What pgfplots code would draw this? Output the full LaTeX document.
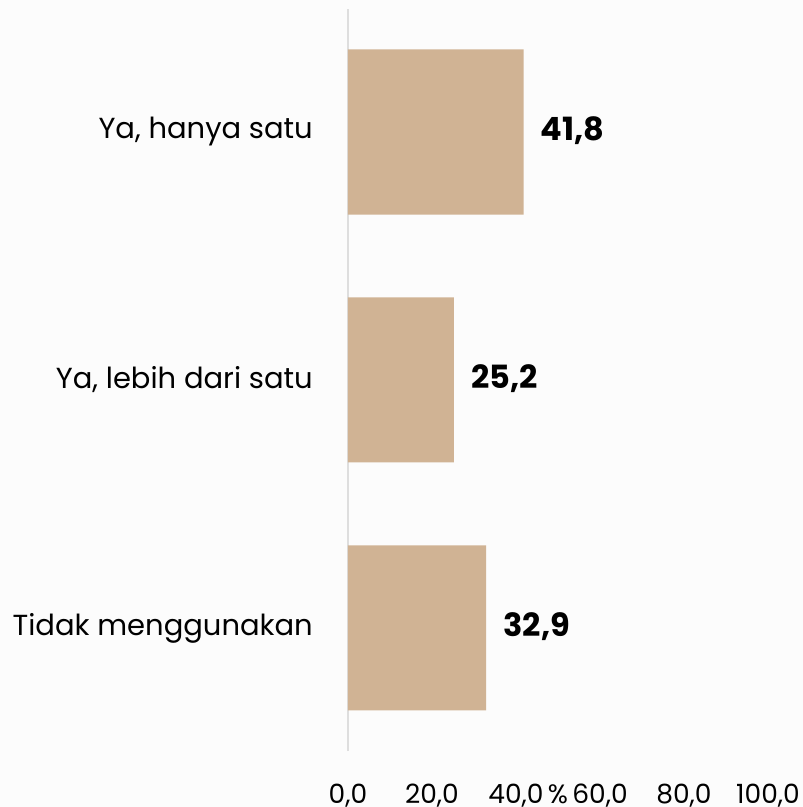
\documentclass[border=0pt]{standalone}
\usepackage{fontspec}
\setmainfont{Poppins}
\usepackage{pgfplots}
\pgfplotsset{compat=1.18}
\definecolor{barc}{HTML}{D0B394}
\definecolor{bg}{HTML}{FCFCFC}
\begin{document}
\begin{tikzpicture}[x=1pt,y=1pt]
\fill[bg] (0,0) rectangle (803,807);
\useasboundingbox (0,0) rectangle (803,807);
\begin{axis}[
  at={(348pt,56pt)}, anchor=south west,
  scale only axis, width=420pt, height=742pt,
  xmin=0, xmax=100, ymin=-0.496, ymax=2.496,
  xbar, bar width=165pt, bar shift=0pt,
  axis x line*=bottom, axis y line*=left,
  x axis line style={draw=none},
  y axis line style={draw=black!13, line width=1.5pt},
  xtick={0,20,40,60,80,100},
  xticklabels={{0,0},{20,0},{40,0},{60,0},{80,0},{100,0}},
  ytick={0,1,2},
  yticklabels={Tidak menggunakan,{Ya, lebih dari satu},{Ya, hanya satu}},
  major tick length=0pt, tick style={draw=none},
  ticklabel style={inner sep=0pt},
  xticklabel style={anchor=base, yshift=-52pt, font=\fontsize{26.5}{30}\selectfont},
  yticklabel style={anchor=east, xshift=-35pt, font=\fontsize{29}{33}\selectfont},
  xlabel={\%},
  xlabel style={at={(axis description cs:0.5,0)}, anchor=base, yshift=-52pt, inner sep=0pt, font=\fontsize{26.5}{30}\selectfont},
  clip=false,
]
\addplot[fill=barc, draw=none,
  nodes near coords,
  nodes near coords style={anchor=west, inner sep=0pt, xshift=17pt, yshift=1pt, font=\fontsize{32}{36}\selectfont\bfseries, text=black},
  point meta=explicit symbolic]
  table[x=v, y=c, meta=lab] {
c v lab
0 32.9 32,9
1 25.2 25,2
2 41.8 41,8
};
\end{axis}
\end{tikzpicture}
\end{document}
